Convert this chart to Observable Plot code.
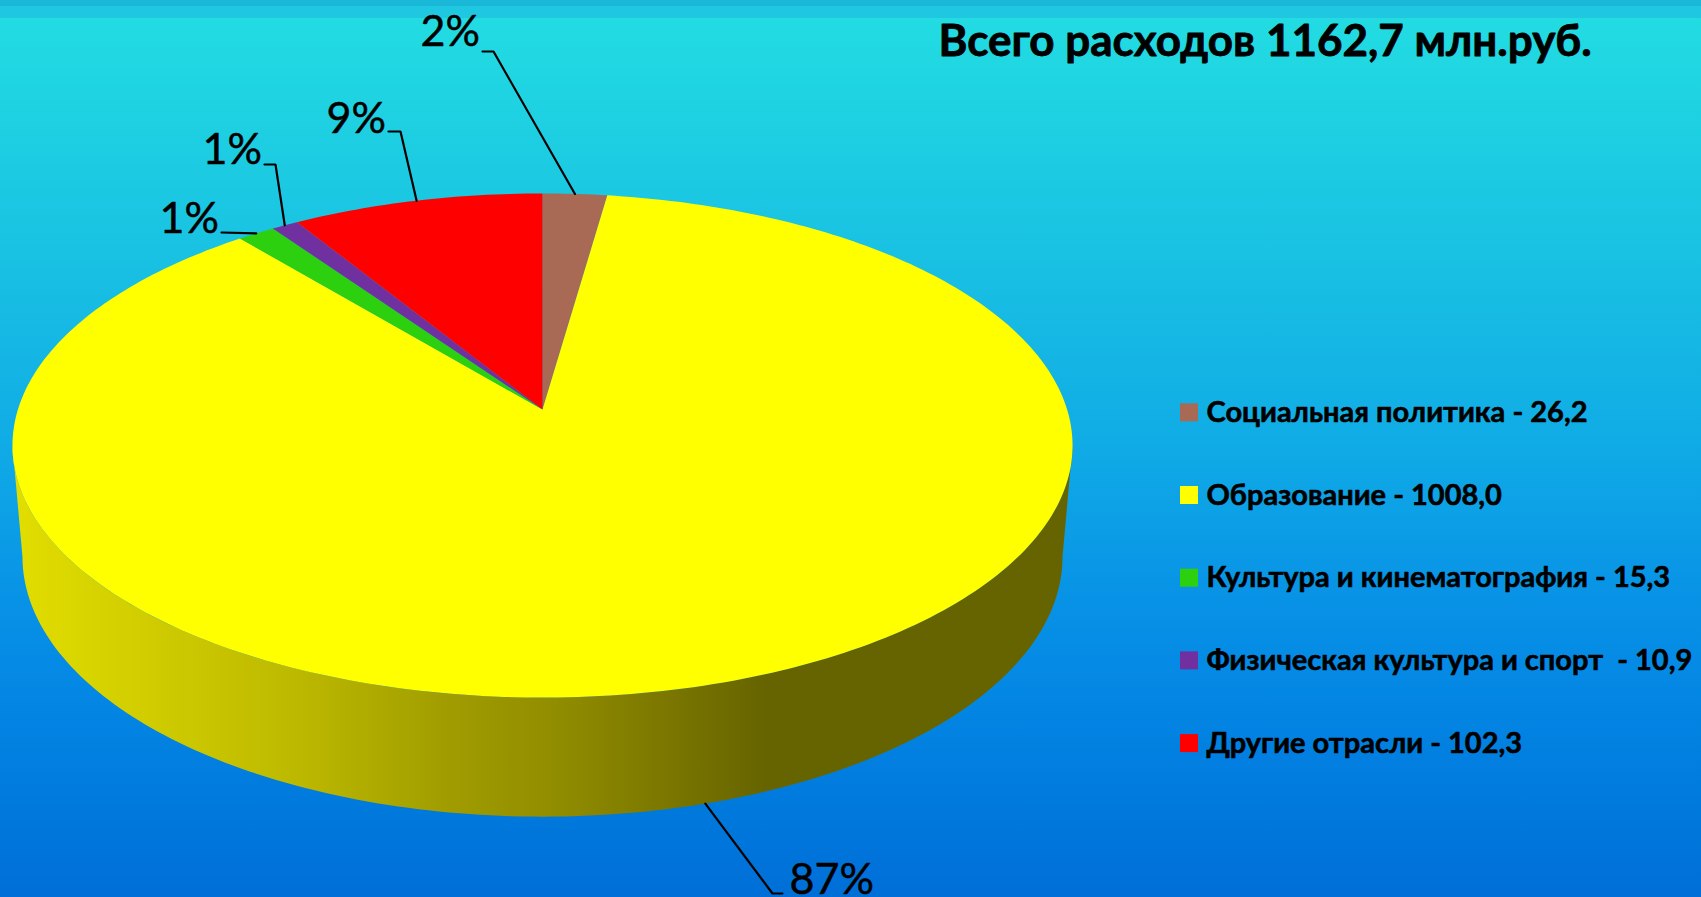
<!DOCTYPE html>
<html lang="ru">
<head>
<meta charset="utf-8">
<title>Всего расходов 1162,7 млн.руб.</title>
<script src="https://cdn.jsdelivr.net/npm/d3@7"></script>
<script src="https://cdn.jsdelivr.net/npm/@observablehq/plot@0.6"></script>
<style>
html,body{margin:0;padding:0;background:#006fd8;overflow:hidden}
svg{display:block}
</style>
</head>
<body>
<div id="chart"></div>
<script>
// ---------- data ----------
const titleText = "Всего расходов 1162,7 млн.руб.";
const categories = ["Социальная политика", "Образование", "Культура и кинематография", "Физическая культура и спорт ", "Другие отрасли"];
const values = [26.2, 1008.0, 15.3, 10.9, 102.3];
const valueLabels = ["26,2", "1008,0", "15,3", "10,9", "102,3"];
const percentLabels = ["2%", "87%", "1%", "1%", "9%"];
const colors = ["#A86A55", "#FFFF00", "#2CD00E", "#7030A0", "#FF0000"];

// ---------- layout (pixels) ----------
const W = 1701, H = 897;
const pie = {cx: 542, cy: 409, a: 524.6, b: 246.9, p: 1 / 7};
const base = {cy: 519, a: 514.7, b: 254.7};
const labelPos = [[420, 45], [789, 893], [159, 232], [202, 163], [326, 132]];
const elbows = [[[482, 51], [493, 51]], [[782, 893], [772, 893]], [[221, 232]], [[264, 164], [275, 164]], [[388, 131], [400, 131]]];
const legendX = 1180, legendTextX = 1206, legendY0 = 403.3, legendStep = 82.7, swatch = 18;
const titleX = 938, titleY = 55;
const bgStops = [[18, "#22dce2"], [150, "#1dcde2"], [300, "#17bce3"], [440, "#10ace6"], [600, "#0892e6"], [700, "#0386e4"], [817, "#0078dc"], [897, "#006fd8"]];
const topBands = [[0, 6, "#1ab8d8"], [6, 18, "#1fc8e0"]];
const sideStops = [[12, "#e2de00"], [150, "#d0cc00"], [300, "#bcb800"], [450, "#a09c00"], [560, "#908c00"], [700, "#747000"], [765, "#666400"], [1072, "#666400"]];

// ---------- projection of the pie (a perspective disc) ----------
const total = d3.sum(values);
const rad = d => d * Math.PI / 180;
const project = (deg, level = 0) => {
  const u = Math.sin(rad(deg)), v = Math.cos(rad(deg));
  const g = level ? base : pie, w = 1 + pie.p * v;
  return [pie.cx + g.a * u / w, g.cy - g.b * v / w];
};
const angles = d3.cumsum(values).map(c => c / total * 360);
const starts = [0, ...angles.slice(0, -1)];
const arcDegrees = (a, b) => { const n = Math.ceil(Math.abs(b - a)); return d3.range(n + 1).map(i => a + (b - a) * i / n); };

const slicePts = categories.flatMap((name, i) => {
  const ring = [[pie.cx, pie.cy], ...arcDegrees(starts[i], angles[i]).map(d => project(d))];
  return ring.map(([x, y]) => ({name, x, y}));
});
const limb = Math.acos(-pie.p) * 180 / Math.PI;
const sidePts = [
  ...arcDegrees(limb, 360 - limb).map(d => project(d)),
  ...arcDegrees(360 - limb, limb).map(d => project(d, 1))
].map(([x, y]) => ({x, y}));

const leaders = categories.flatMap((name, i) => {
  const mid = (starts[i] + angles[i]) / 2;
  const front = Math.cos(rad(mid)) < -pie.p;
  const end = project(mid, front ? 1 : 0);
  return [...elbows[i], end].map(([x, y]) => ({name, x, y}));
});
const labels = percentLabels.map((t, i) => ({t, x: labelPos[i][0], y: labelPos[i][1]}));
const legend = categories.map((name, i) => ({
  name, label: `${name} - ${valueLabels[i]}`,
  y1: legendY0 + i * legendStep, y2: legendY0 + i * legendStep + swatch,
}));

const gradient = (id, horizontal, stops) => () => {
  const g = d3.create("svg:linearGradient").attr("id", id).attr("gradientUnits", "userSpaceOnUse");
  const lo = stops[0][0], hi = stops[stops.length - 1][0];
  if (horizontal) g.attr("x1", lo).attr("x2", hi).attr("y1", 0).attr("y2", 0);
  else g.attr("x1", 0).attr("x2", 0).attr("y1", lo).attr("y2", hi);
  stops.forEach(([o, c]) => g.append("stop").attr("offset", (o - lo) / (hi - lo)).attr("stop-color", c));
  const defs = d3.create("svg:defs");
  defs.append(() => g.node());
  return defs.node();
};

const fontFamily = "Lato, 'Open Sans', sans-serif";
const chart = Plot.plot({
  width: W, height: H, margin: 0,
  style: {background: "transparent", fontFamily},
  x: {domain: [0, W], range: [0, W], axis: null},
  y: {domain: [0, H], range: [0, H], axis: null},
  color: {type: "ordinal", domain: categories, range: colors},
  marks: [
    gradient("bg", false, bgStops),
    gradient("side", true, sideStops),
    Plot.rect([0], {x1: -2, x2: W + 2, y1: -2, y2: H + 2, fill: "url(#bg)"}),
    Plot.rect(topBands, {x1: -2, x2: W + 2, y1: d => d[0], y2: d => d[1], fill: d => d[2]}),
    Plot.line(sidePts, {x: "x", y: "y", fill: "url(#side)", stroke: "none"}),
    Plot.line(slicePts, {x: "x", y: "y", z: "name", fill: "name", stroke: "none"}),
    Plot.line(leaders, {x: "x", y: "y", z: "name", stroke: "#000", strokeWidth: 2.2, strokeLinejoin: "miter"}),
    Plot.text(labels, {x: "x", y: "y", text: "t", textAnchor: "start", lineAnchor: "bottom", fontSize: 43, fill: "#000", stroke: "#000", strokeWidth: 0.5}),
    Plot.rect(legend, {x1: legendX, x2: legendX + swatch, y1: "y1", y2: "y2", fill: "name"}),
    Plot.text(legend, {x: legendTextX, y: "y2", text: "label", textAnchor: "start", lineAnchor: "bottom", fontSize: 29, fontWeight: 700, fill: "#000", stroke: "#000", strokeWidth: 0.6}),
    Plot.text([titleText], {x: titleX, y: titleY, text: d => d, textAnchor: "start", lineAnchor: "bottom", fontSize: 44, fontWeight: 700, fill: "#000", stroke: "#000", strokeWidth: 0.8})
  ]
});
document.getElementById("chart").append(chart);
</script>
</body>
</html>
